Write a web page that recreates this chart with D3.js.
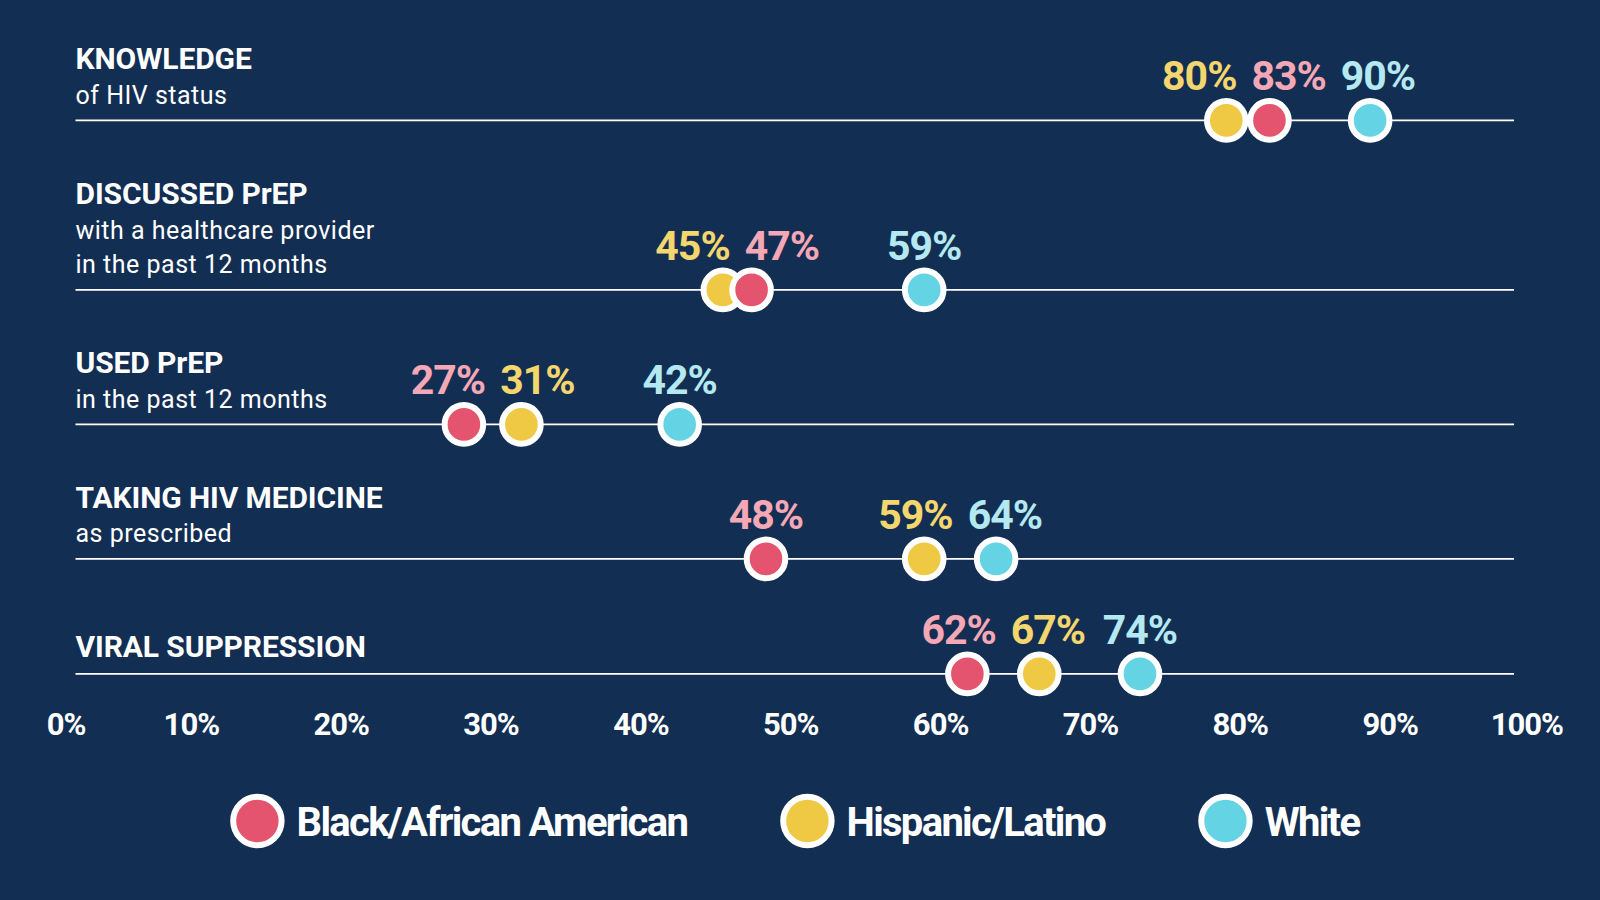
<!DOCTYPE html>
<html>
<head>
<meta charset="utf-8">
<script src="https://cdn.jsdelivr.net/npm/d3@7"></script>
<style>
  html, body { margin: 0; padding: 0; background: #132e53; }
  svg { display: block; }
</style>
</head>
<body>
<svg id="chart" width="1600" height="900"></svg>
<script>
// ---------- data ----------
const groups = ["Black/African American", "Hispanic/Latino", "White"];
const measures = ["KNOWLEDGE", "DISCUSSED PrEP", "USED PrEP", "TAKING HIV MEDICINE", "VIRAL SUPPRESSION"];
const subtitles = [
  ["of HIV status"],
  ["with a healthcare provider", "in the past 12 months"],
  ["in the past 12 months"],
  ["as prescribed"],
  []
];
const blackValues    = [83, 47, 27, 48, 62];
const hispanicValues = [80, 45, 31, 59, 67];
const whiteValues    = [90, 59, 42, 64, 74];
const tickValues = [0, 10, 20, 30, 40, 50, 60, 70, 80, 90, 100];

// ---------- style ----------
const dotColors   = { "Black/African American": "#e5546e", "Hispanic/Latino": "#efc944", "White": "#64d3e4" };
const labelColors = { "Black/African American": "#f4a8b5", "Hispanic/Latino": "#f3d66d", "White": "#b4e9f1" };
const FONT = "Roboto, 'Noto Sans', sans-serif";

const svg = d3.select("#chart");
svg.append("rect").attr("width", 1600).attr("height", 900).attr("fill", "#132e53");

const x = d3.scaleLinear().domain([0, 100]).range([75.5, 1514]);
const xAxisLabels = d3.scaleLinear().domain([0, 100]).range([41.5, 1540]);

const valuesByGroup = [blackValues, hispanicValues, whiteValues];

// row positions: cumulative from text block heights
const LINE_H = 34.5;
const rowY = [];
measures.forEach((m, i) => {
  const n = 1 + subtitles[i].length;
  if (i === 0) rowY.push(120.4);
  else rowY.push(rowY[i - 1] + Math.max(115, 64.5 + 35 * n));
});

const rows = svg.selectAll("g.row").data(measures).join("g").attr("class", "row");

rows.each(function (m, i) {
  const g = d3.select(this);
  const y = rowY[i];
  const lines = [m].concat(subtitles[i]);
  const n = lines.length;

  // baseline rule
  g.append("line")
    .attr("x1", x(0)).attr("x2", x(100))
    .attr("y1", y).attr("y2", y)
    .attr("stroke", "#ffffff").attr("stroke-width", 1.6);

  // text block
  lines.forEach((t, j) => {
    g.append("text")
      .attr("x", x(0))
      .attr("y", y - 16.5 - LINE_H * (n - 1 - j))
      .attr("fill", "#ffffff")
      .attr("font-family", FONT)
      .attr("font-weight", j === 0 ? 700 : 400)
      .attr("font-size", j === 0 ? 30 : 25)
      .attr("letter-spacing", j === 0 ? -0.1 : 0.5)
      .text(t);
  });

  // points
  const pts = groups.map((grp, k) => ({ grp, v: valuesByGroup[k][i] }))
    .sort((a, b) => a.v - b.v);

  // value labels with simple collision avoidance
  const labels = g.selectAll("text.val").data(pts).join("text")
    .attr("class", "val")
    .attr("x", d => x(d.v))
    .attr("y", y - 30)
    .attr("text-anchor", "middle")
    .attr("fill", d => labelColors[d.grp])
    .attr("font-family", FONT)
    .attr("font-weight", 700)
    .attr("font-size", 41)
    .attr("letter-spacing", -1)
    .text(d => d.v + "%");

  const widths = [];
  labels.each(function () { widths.push(this.getComputedTextLength()); });
  const cx = pts.map(d => x(d.v));
  const GAP = 15;
  for (let it = 0; it < 50; it++) {
    for (let a = 0; a < cx.length - 1; a++) {
      const need = widths[a] / 2 + widths[a + 1] / 2 + GAP;
      const d = cx[a + 1] - cx[a];
      if (d < need) {
        const push = (need - d) / 2;
        cx[a] -= push; cx[a + 1] += push;
      }
    }
  }
  labels.attr("x", (d, k) => cx[k]);

  g.selectAll("circle.dot").data(pts).join("circle")
    .attr("class", "dot")
    .attr("cx", d => x(d.v))
    .attr("cy", y)
    .attr("r", 19.3)
    .attr("fill", d => dotColors[d.grp])
    .attr("stroke", "#ffffff")
    .attr("stroke-width", 6);
});

// ---------- axis labels ----------
const axisG = svg.append("g");
const ticks = axisG.selectAll("text").data(tickValues).join("text")
  .attr("x", d => xAxisLabels(d))
  .attr("y", 735)
  .attr("text-anchor", "middle")
  .attr("fill", "#ffffff")
  .attr("font-family", FONT)
  .attr("font-weight", 700)
  .attr("font-size", 31)
  .attr("letter-spacing", -1)
  .text(d => d + "%");
ticks.each(function (d) {
  const w = this.getComputedTextLength();
  let c = xAxisLabels(d);
  c = Math.max(c, 46.7 + w / 2);
  c = Math.min(c, 1563 - w / 2);
  d3.select(this).attr("x", c);
});

// ---------- legend ----------
const legend = svg.append("g");
const LR = 24.2, LEG_Y = 821, TXT_GAP = 12, ITEM_GAP = 93;
const items = legend.selectAll("g").data(groups).join("g");
items.append("circle")
  .attr("r", LR).attr("cy", LEG_Y)
  .attr("fill", d => dotColors[d])
  .attr("stroke", "#ffffff").attr("stroke-width", 6);
items.append("text")
  .attr("y", LEG_Y + 15)
  .attr("fill", "#ffffff")
  .attr("font-family", FONT)
  .attr("font-weight", 700)
  .attr("font-size", 40)
  .attr("letter-spacing", -1.7)
  .text(d => d);
const itemW = [];
items.select("text").each(function () { itemW.push(this.getComputedTextLength()); });
const outerR = LR + 3;
const widthsTotal = itemW.reduce((s, w) => s + 2 * outerR + TXT_GAP + w, 0) + ITEM_GAP * (groups.length - 1);
let cursor = (x(0) + x(100)) / 2 - widthsTotal / 2;
items.each(function (d, k) {
  const it = d3.select(this);
  it.select("circle").attr("cx", cursor + outerR);
  it.select("text").attr("x", cursor + 2 * outerR + TXT_GAP);
  cursor += 2 * outerR + TXT_GAP + itemW[k] + ITEM_GAP;
});
</script>
</body>
</html>
